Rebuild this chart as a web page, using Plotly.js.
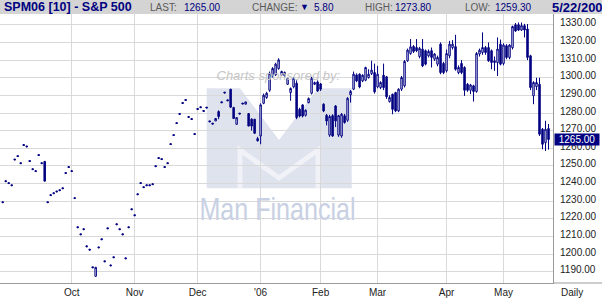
<!DOCTYPE html>
<html><head><meta charset="utf-8">
<script src="https://cdn.plot.ly/plotly-3.0.1.min.js"></script>
<style>html,body{margin:0;padding:0;background:#fff;}#chart{width:602px;height:298px;}</style>
</head><body><div id="chart"></div>
<script>
// Daily OHLC bars, SPM06 (S&P 500 June 2006 futures), late Aug 2005 .. 5/22/2006
const openP = [
1229.75,1241.65,1240.55,1239.35,1253.95,1255.85,1251.85,1262.15,1261.35,1253.05,
1248.45,1247.35,1256.45,1251.85,1252.6,1229.75,1233.75,1234.85,1235.85,1236.55,
1237.65,1246.25,1249.65,1247.35,1232.05,1215.55,1211.55,1214.45,1204.75,1202.85,
1192.85,1187.5,1204.15,1208.75,1196.25,1214.95,1193.95,1198.55,1217.25,1214.45,
1211.55,1197.95,1215.55,1225.75,1222.35,1234.25,1240.55,1238.25,1239.35,1239.35,
1239.95,1250.15,1254.75,1254.15,1249.65,1251.85,1262.65,1267.75,1274.55,1279.75,
1285.95,1287.65,1278.05,1276.85,1268.35,1282.55,1283.55,1281.45,1283.35,1275.55,
1274.25,1275.5,1280.8,1286.35,1291.85,1287.45,1293.5,1283.1,1273.6,1279.95,
1285.65,1285.0,1279.7,1276.5,1276.5,1265.5,1267.0,1285.5,1288.8,1292.9,
1300.7,1301.6,1305.2,1301.6,1301.1,1296.3,1291.6,1294.8,1296.9,1282.1,
1284.6,1278.7,1285.9,1291.2,1296.3,1297.6,1296.5,1285.0,1278.7,1267.5,
1278.5,1284.0,1267.5,1267.0,1278.4,1275.9,1290.3,1293.5,1301.6,1302.0,
1298.2,1298.6,1300.1,1302.4,1302.9,1294.8,1294.4,1301.4,1300.5,1286.5,
1290.6,1291.6,1281.2,1293.5,1295.4,1309.6,1313.7,1317.7,1317.1,1312.0,
1316.2,1315.3,1312.4,1315.3,1310.5,1307.7,1319.0,1308.1,1303.9,1312.4,
1317.1,1317.6,1302.9,1308.1,1305.8,1296.3,1292.9,1295.4,1292.2,1313.4,
1314.3,1317.1,1317.1,1315.3,1308.6,1308.6,1319.0,1308.1,1318.1,1311.5,
1317.0,1330.0,1330.0,1327.0,1329.5,1327.6,1312.4,1289.7,1295.0,1296.3,
1270.8,1263.2,1271.2];
const highP = [
1229.75,1241.65,1240.55,1239.35,1253.95,1255.85,1251.85,1262.15,1261.35,1253.05,
1248.45,1247.35,1256.45,1251.85,1252.6,1229.75,1233.75,1234.85,1235.85,1236.55,
1237.65,1246.25,1249.65,1247.35,1232.05,1215.55,1211.55,1214.45,1204.75,1202.85,
1192.85,1192.6,1204.15,1208.75,1196.25,1214.95,1193.95,1198.55,1217.25,1214.45,
1211.55,1197.95,1215.55,1225.75,1222.35,1234.25,1240.55,1238.25,1239.35,1239.35,
1239.95,1250.15,1254.75,1254.15,1249.65,1251.85,1262.65,1267.75,1274.55,1279.75,
1285.95,1287.65,1278.05,1276.85,1268.35,1282.55,1283.55,1281.45,1283.35,1275.55,
1274.25,1276.9,1281.5,1286.35,1291.85,1287.45,1293.5,1283.5,1277.4,1279.95,
1285.65,1286.3,1280.0,1277.0,1276.5,1266.5,1285.5,1291.0,1292.0,1303.5,
1306.0,1308.5,1311.0,1304.0,1303.5,1300.0,1294.5,1300.3,1298.5,1283.0,
1285.0,1282.0,1288.8,1300.5,1297.8,1298.5,1297.0,1285.5,1279.5,1279.0,
1279.3,1284.5,1279.0,1280.0,1279.5,1289.0,1293.0,1303.5,1302.5,1302.5,
1302.0,1306.2,1304.8,1309.6,1308.0,1306.7,1298.0,1308.0,1301.0,1290.0,
1291.0,1292.0,1294.0,1301.0,1310.0,1316.5,1321.9,1318.5,1321.9,1317.5,
1321.9,1316.0,1316.0,1317.1,1314.0,1312.5,1320.0,1309.0,1316.0,1320.9,
1321.3,1324.3,1307.0,1310.0,1306.5,1297.0,1296.5,1296.0,1314.5,1316.5,
1325.7,1318.0,1320.0,1316.0,1312.0,1322.8,1321.6,1319.5,1319.0,1319.0,
1329.5,1331.0,1331.3,1331.3,1330.5,1330.4,1313.0,1298.0,1300.0,1300.0,
1271.5,1275.6,1273.8];
const lowP = [
1229.25,1241.15,1240.05,1238.85,1253.45,1255.35,1251.35,1261.65,1260.85,1252.55,
1247.95,1246.85,1255.95,1251.35,1241.4,1229.25,1233.25,1234.35,1235.35,1236.05,
1237.15,1245.75,1249.15,1246.85,1231.55,1215.05,1211.05,1213.95,1204.25,1202.35,
1192.35,1187.5,1203.65,1208.25,1195.75,1214.45,1193.45,1198.05,1216.75,1213.95,
1211.05,1197.45,1215.05,1225.25,1221.85,1233.75,1240.05,1237.75,1238.85,1238.85,
1239.45,1249.65,1254.25,1253.65,1249.15,1251.35,1262.15,1267.25,1274.05,1279.25,
1285.45,1287.15,1277.55,1276.35,1267.85,1282.05,1283.05,1280.95,1282.85,1275.05,
1273.75,1275.5,1276.5,1285.85,1291.35,1286.95,1283.0,1276.9,1273.6,1279.45,
1285.15,1285.0,1272.6,1270.0,1268.5,1263.8,1262.3,1285.0,1288.0,1292.0,
1300.0,1301.0,1304.5,1301.0,1300.5,1296.0,1286.9,1294.0,1276.5,1277.5,
1277.5,1278.0,1285.5,1290.5,1295.8,1292.0,1292.5,1280.5,1273.0,1266.5,
1266.5,1272.0,1266.5,1266.0,1274.0,1275.0,1285.9,1293.0,1297.5,1294.0,
1297.5,1298.0,1299.5,1301.5,1291.0,1294.0,1293.5,1293.0,1288.0,1285.9,
1279.3,1280.5,1280.5,1292.5,1294.5,1309.0,1313.0,1314.0,1314.5,1311.0,
1306.0,1307.0,1311.5,1305.8,1309.5,1306.5,1302.0,1302.0,1303.0,1311.0,
1316.0,1304.0,1302.0,1302.0,1289.7,1292.0,1290.7,1286.5,1291.5,1312.0,
1313.0,1313.0,1309.0,1304.8,1303.9,1301.0,1307.0,1307.0,1310.5,1310.5,
1316.0,1326.0,1326.5,1326.5,1322.8,1310.0,1293.0,1285.0,1293.0,1267.0,
1259.5,1258.5,1259.3];
const closeP = [
1229.25,1241.15,1240.05,1238.85,1253.45,1255.35,1251.35,1261.65,1260.85,1252.55,
1247.95,1246.85,1255.95,1251.35,1241.4,1229.25,1233.25,1234.35,1235.35,1236.05,
1237.15,1245.75,1249.15,1246.85,1231.55,1215.05,1211.05,1213.95,1204.25,1202.35,
1192.35,1192.6,1203.65,1208.25,1195.75,1214.45,1193.45,1198.05,1216.75,1213.95,
1211.05,1197.45,1215.05,1225.25,1221.85,1233.75,1240.05,1237.75,1238.85,1238.85,
1239.45,1249.65,1254.25,1253.65,1249.15,1251.35,1262.15,1267.25,1274.05,1279.25,
1285.45,1287.15,1277.55,1276.35,1267.85,1282.05,1283.05,1280.95,1282.85,1275.05,
1273.75,1276.9,1278.0,1285.85,1291.35,1286.95,1283.3,1276.9,1277.4,1279.45,
1285.15,1286.3,1272.6,1272.6,1268.5,1264.3,1284.6,1290.1,1291.2,1302.5,
1305.2,1307.7,1310.1,1303.5,1303.0,1299.5,1293.9,1299.7,1277.4,1278.3,
1278.3,1281.6,1288.2,1299.7,1297.2,1292.5,1293.5,1281.2,1275.5,1278.0,
1267.0,1275.5,1278.5,1279.3,1274.6,1288.3,1292.2,1302.0,1298.2,1294.8,
1301.4,1305.8,1302.0,1304.3,1292.0,1302.0,1297.3,1294.4,1289.2,1288.8,
1282.1,1281.2,1293.5,1300.1,1309.2,1315.6,1317.5,1314.9,1315.3,1316.6,
1306.7,1307.7,1314.9,1311.5,1313.4,1311.5,1302.9,1302.9,1313.7,1319.0,
1319.0,1304.8,1305.8,1302.9,1292.9,1292.9,1295.9,1292.2,1313.7,1315.6,
1317.1,1314.3,1309.6,1308.6,1309.6,1316.2,1307.7,1318.5,1311.5,1318.5,
1329.0,1326.5,1327.0,1329.5,1327.0,1311.5,1294.4,1297.3,1297.3,1268.0,
1262.3,1270.8,1265.0];

// Month-start bar positions and their labels
const monthTickIdx = [23,44,65,86,106,125,148,167];
const monthLabels = ['Oct','Nov','Dec',"'06",'Feb','Mar','Apr','May'];

// Header quote values
const symbolTitle = 'SPM06 [10] - S&P 500';
const lastVal = 1265.00, changeVal = 5.80, highVal = 1273.80, lowVal = 1259.30;
const quoteDate = '5/22/2006';

const NAVY = '#000080';
const FONT = 'Liberation Sans, Arial, sans-serif';
const W = 602, H = 298, ML = 0, MR = 49, MT = 14, MB = 15;
const PW = W - ML - MR, PH = H - MT - MB;
const px = x => (x - ML) / PW;            // pixel -> paper x
const py = y => (H - MB - y) / PH;        // pixel -> paper y

const xIdx = openP.map((_, i) => i);

// watermark caption placed under the candles
const sponsorText = {
  type: 'scatter', mode: 'text', x: [91.9], y: [1300.3], text: ['Charts sponsored by:'],
  textposition: 'middle center', cliponaxis: false, hoverinfo: 'skip', showlegend: false,
  textfont: {family: FONT, size: 13, color: '#c6c6c6', style: 'italic'}
};

const trace = {
  type: 'candlestick', x: xIdx, open: openP, high: highP, low: lowP, close: closeP,
  increasing: {line: {color: NAVY, width: 1}, fillcolor: '#ffffff'},
  decreasing: {line: {color: NAVY, width: 1}, fillcolor: NAVY},
  whiskerwidth: 0, hoverinfo: 'skip', showlegend: false
};

function hdr(text, x, opts) {
  return Object.assign({xref: 'paper', yref: 'paper', x: px(x), y: py(7.5), xanchor: 'left', yanchor: 'middle',
    text: text, showarrow: false, font: {family: FONT, size: 10, color: '#5a5a5a'}}, opts || {});
}

const annotations = [
  hdr('<b>' + symbolTitle + '</b>', 2, {font: {family: FONT, size: 12.5, color: NAVY}}),
  hdr('LAST:', 148),
  hdr(lastVal.toFixed(2), 182, {font: {family: FONT, size: 10, color: NAVY}}),
  hdr('CHANGE:', 250),
  hdr('\u25BC', 298, {font: {family: FONT, size: 9, color: NAVY}}),
  hdr(changeVal.toFixed(2), 312, {font: {family: FONT, size: 10, color: NAVY}}),
  hdr('HIGH:', 363),
  hdr(highVal.toFixed(2), 393, {font: {family: FONT, size: 10, color: NAVY}}),
  hdr('LOW:', 463),
  hdr(lowVal.toFixed(2), 493, {font: {family: FONT, size: 10, color: NAVY}}),
  hdr('<b>' + quoteDate + '</b>', 550, {font: {family: FONT, size: 13, color: NAVY}}),
  // last price tag on the axis
  {xref: 'paper', yref: 'y', x: 1, xanchor: 'left', xshift: 1, y: lastVal, yanchor: 'middle',
   text: lastVal.toFixed(2), showarrow: false, bgcolor: NAVY, borderpad: 1, width: 42, height: 9,
   font: {family: FONT, size: 10, color: '#ffffff'}},
  {xref: 'paper', yref: 'paper', x: px(571.5), y: py(292), xanchor: 'center', yanchor: 'middle',
   text: 'Daily', showarrow: false, font: {family: FONT, size: 10, color: '#222'}},
  {xref: 'paper', yref: 'paper', x: px(277), y: py(209), xanchor: 'center', yanchor: 'middle',
   text: 'Man Financial', showarrow: false, name: 'brand',
   font: {family: FONT, size: 31, color: '#c8d0e3'}}
];

const logoPath = 'M' + px(206.7) + ',' + py(88.3) + ' L' + px(240) + ',' + py(88.3) + ' L' + px(279) + ',' + py(140) +
  ' L' + px(318) + ',' + py(88.3) + ' L' + px(351.7) + ',' + py(88.3) + ' L' + px(351.7) + ',' + py(188.3) +
  ' L' + px(206.7) + ',' + py(188.3) + ' Z';
const logoInner = 'M' + px(240) + ',' + py(188.3) + ' L' + px(240) + ',' + py(150) + ' L' + px(279) + ',' + py(178) +
  ' L' + px(318) + ',' + py(150) + ' L' + px(318) + ',' + py(188.3);

const shapes = [
  {type: 'rect', xref: 'paper', yref: 'paper', x0: px(0), x1: px(W), y0: py(MT), y1: py(0), fillcolor: '#d4d4d4', line: {width: 0}, layer: 'above'},
  {type: 'path', xref: 'paper', yref: 'paper', path: logoPath, fillcolor: '#dfe3ee', line: {width: 0}, layer: 'below'},
  {type: 'path', xref: 'paper', yref: 'paper', path: logoInner, line: {color: '#f0f2f7', width: 5}, layer: 'below'},
  {type: 'line', xref: 'paper', yref: 'paper', x0: 1, x1: px(W), y0: 0, y1: 0, line: {color: '#9a9a9a', width: 1}, layer: 'above'}
];

const layout = {
  width: W, height: H, margin: {l: ML, r: MR, t: MT, b: MB, pad: 0},
  paper_bgcolor: '#ffffff', plot_bgcolor: 'rgba(0,0,0,0)',
  font: {family: FONT, size: 10, color: '#222'},
  showlegend: false, boxgap: 0.3,
  xaxis: {range: [-0.9, 183.5], tickmode: 'array', tickvals: monthTickIdx, ticktext: monthLabels,
    showgrid: true, gridcolor: '#d9d9d9', gridwidth: 1, zeroline: false, ticks: '',
    showline: true, linecolor: '#9a9a9a', linewidth: 1, rangeslider: {visible: false},
    tickfont: {family: FONT, size: 10, color: '#222'}, fixedrange: true},
  yaxis: {side: 'right', range: [1183.7, 1336.1], tick0: 1190, dtick: 10, tickformat: '.2f',
    showgrid: true, gridcolor: '#d9d9d9', gridwidth: 1, zeroline: false, ticks: '',
    showline: true, linecolor: '#9a9a9a', linewidth: 1, ticklabelshift: -2, ticklabelstandoff: 4,
    tickfont: {family: FONT, size: 10, color: '#222'}, fixedrange: true},
  annotations: annotations, shapes: shapes
};

Plotly.newPlot('chart', [sponsorText, trace], layout, {staticPlot: true, displayModeBar: false}).then(gd => {
  // condense the brand lettering to the watermark's narrow proportions
  gd.querySelectorAll('.annotation-text').forEach(t => {
    if (t.textContent === 'Man Financial') {
      t.style.transformBox = 'fill-box';
      t.style.transformOrigin = 'center';
      t.style.transform = 'scaleX(0.81)';
    }
  });
});
</script></body></html>
